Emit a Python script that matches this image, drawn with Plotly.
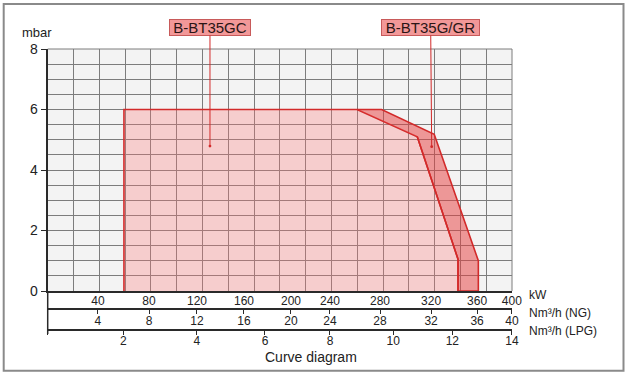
import plotly.graph_objects as go

# ---------------- data ----------------
light_kw = [65.7, 65.7, 266.5, 318.4, 353.5, 353.5]
light_mbar = [0, 6.0, 6.0, 5.10, 1.05, 0]
dark_kw = [266.5, 287.7, 333.0, 371.0, 371.0, 353.5, 353.5, 318.4]
dark_mbar = [6.0, 6.0, 5.18, 1.0, 0, 0, 1.05, 5.10]

kw_labels = ["40", "80", "120", "160", "200", "240", "280", "320", "360", "400"]
ng_labels = ["4", "8", "12", "16", "20", "24", "28", "32", "36", "40"]
lpg_labels = ["2", "4", "6", "8", "10", "12", "14"]
y_ticks = [0, 2, 4, 6, 8]

label_gc = "B-BT35GC"
label_gr = "B-BT35G/GR"
dot_gc = (139.8, 4.79)
dot_gr = (330.8, 4.77)

# tick label positions along the kW axis, as drawn on the original sheet
kw_tick_pos = [43.3, 87.3, 128.6, 169.1, 209.6, 243.2, 286.3, 330.3, 369.9, 399.9]
lpg_tick_pos = [0.05, 65.1, 128.4, 187.2, 243.2, 297.7, 348.6, 399.9]

W, H = 629, 376
def px(x):
    return x / W
def py(y):
    return 1 - y / H

FONT = "Liberation Sans, Arial, sans-serif"
GRID = "#7c7c7c"
AXC = "#2a2a2a"
RED = "#d22a2a"

fig = go.Figure()
fig.add_trace(go.Scatter(x=light_kw, y=light_mbar, fill="toself", mode="lines",
                         fillcolor="rgba(255,120,120,0.30)",
                         line=dict(color=RED, width=1.6), hoverinfo="skip", showlegend=False))
fig.add_trace(go.Scatter(x=dark_kw, y=dark_mbar, fill="toself", mode="lines",
                         fillcolor="rgba(232,60,60,0.50)",
                         line=dict(color=RED, width=1.6), hoverinfo="skip", showlegend=False))
# helper traces so the overlaid axes are drawn
for ax in ["x2", "x3", "x4", "x5", "x6"]:
    fig.add_trace(go.Scatter(x=light_kw, y=light_mbar, xaxis=ax, yaxis="y", mode="lines",
                             opacity=0, hoverinfo="skip", showlegend=False))

xdom = [px(47.7), px(512)]
ydom = [py(291), py(49)]

def line_axis(pos, vals):
    return dict(overlaying="x", anchor="free", position=py(pos), side="bottom", range=[0, 400],
                tickmode="array", tickvals=vals, showticklabels=False,
                ticks="outside", ticklen=4, tickcolor=AXC, tickwidth=1, automargin=False,
                showgrid=False, zeroline=False, showline=True, linecolor=AXC, linewidth=1.5)

def label_axis(pos, vals, texts):
    return dict(overlaying="x", anchor="free", position=py(pos), side="bottom", range=[0, 400],
                tickmode="array", tickvals=vals, ticktext=texts, ticks="",
                showgrid=False, zeroline=False, showline=False, automargin=False,
                tickfont=dict(size=12, color="#222"))

fig.update_layout(
    width=W, height=H,
    margin=dict(l=0, r=0, t=0, b=0, pad=0, autoexpand=False),
    paper_bgcolor="white",
    plot_bgcolor="#f3f3f3",
    font=dict(family=FONT, color="#222"),
    xaxis=dict(domain=xdom, range=[0, 400], tickmode="linear", tick0=0, dtick=400 / 18,
               showticklabels=False, ticks="", showgrid=True, gridcolor=GRID, gridwidth=1,
               zeroline=False, showline=True, linecolor=AXC, linewidth=2, automargin=False),
    xaxis2=label_axis(291.5, kw_tick_pos, kw_labels),
    xaxis3=line_axis(309.3, kw_tick_pos),
    xaxis4=line_axis(330, lpg_tick_pos),
    xaxis5=label_axis(311.5, kw_tick_pos, ng_labels),
    xaxis6=label_axis(332, lpg_tick_pos, [""] + lpg_labels),
    yaxis=dict(domain=ydom, range=[0, 8], tickmode="array", tickvals=y_ticks,
               ticks="outside", ticklen=5, tickcolor=AXC, showgrid=True, gridcolor=GRID,
               gridwidth=1, zeroline=False, showline=True, linecolor=AXC, linewidth=2,
               automargin=False,
               minor=dict(dtick=0.5, tick0=0, showgrid=True, gridcolor=GRID, gridwidth=1, ticks=""),
               tickfont=dict(size=14, color="#222")),
)

shapes = [
    dict(type="rect", xref="paper", yref="paper", x0=px(3.7), x1=px(623.5), y0=py(370.7), y1=py(4),
         line=dict(color="#8a8a8a", width=2)),
    dict(type="line", xref="paper", yref="paper", x0=px(47.7), x1=px(47.7), y0=py(291), y1=py(334),
         line=dict(color=AXC, width=1.5)),
    dict(type="line", xref="x domain", yref="y domain", x0=1, x1=1, y0=0, y1=1,
         line=dict(color=GRID, width=1)),
    dict(type="line", xref="x domain", yref="y domain", x0=0, x1=1, y0=1, y1=1,
         line=dict(color=GRID, width=1)),
]
fig.update_layout(shapes=shapes)

annos = [
    dict(text="mbar", xref="paper", yref="paper", x=px(37), y=py(33), showarrow=False,
         font=dict(size=13, color="#222"), xanchor="center", yanchor="middle"),
    dict(text="kW", xref="paper", yref="paper", x=px(527), y=py(295), showarrow=False,
         font=dict(size=12, color="#222"), xanchor="left", yanchor="middle"),
    dict(text="Nm³/h (NG)", xref="paper", yref="paper", x=px(527), y=py(312.5), showarrow=False,
         font=dict(size=12, color="#222"), xanchor="left", yanchor="middle"),
    dict(text="Nm³/h (LPG)", xref="paper", yref="paper", x=px(527), y=py(331), showarrow=False,
         font=dict(size=12, color="#222"), xanchor="left", yanchor="middle"),
    dict(text="Curve diagram", xref="paper", yref="paper", x=px(311), y=py(357), showarrow=False,
         font=dict(size=14, color="#222"), xanchor="center", yanchor="middle"),
    dict(text=label_gc, x=dot_gc[0], y=dot_gc[1], xref="x", yref="y", showarrow=True,
         ax=0, ay=-118.7, arrowhead=6, arrowsize=0.7, arrowwidth=1, arrowcolor=RED,
         bgcolor="#f29898", bordercolor="#c85a5a", borderwidth=1, borderpad=0,
         width=80, height=15, font=dict(size=15, color="#2a1515")),
    dict(text=label_gr, x=dot_gr[0], y=dot_gr[1], xref="x", yref="y", showarrow=True,
         ax=-1, ay=-119.2, arrowhead=6, arrowsize=0.7, arrowwidth=1, arrowcolor=RED,
         bgcolor="#f29898", bordercolor="#c85a5a", borderwidth=1, borderpad=0,
         width=97, height=15, font=dict(size=15, color="#2a1515")),
]
fig.update_layout(annotations=annos)

fig.write_html("out.html")
